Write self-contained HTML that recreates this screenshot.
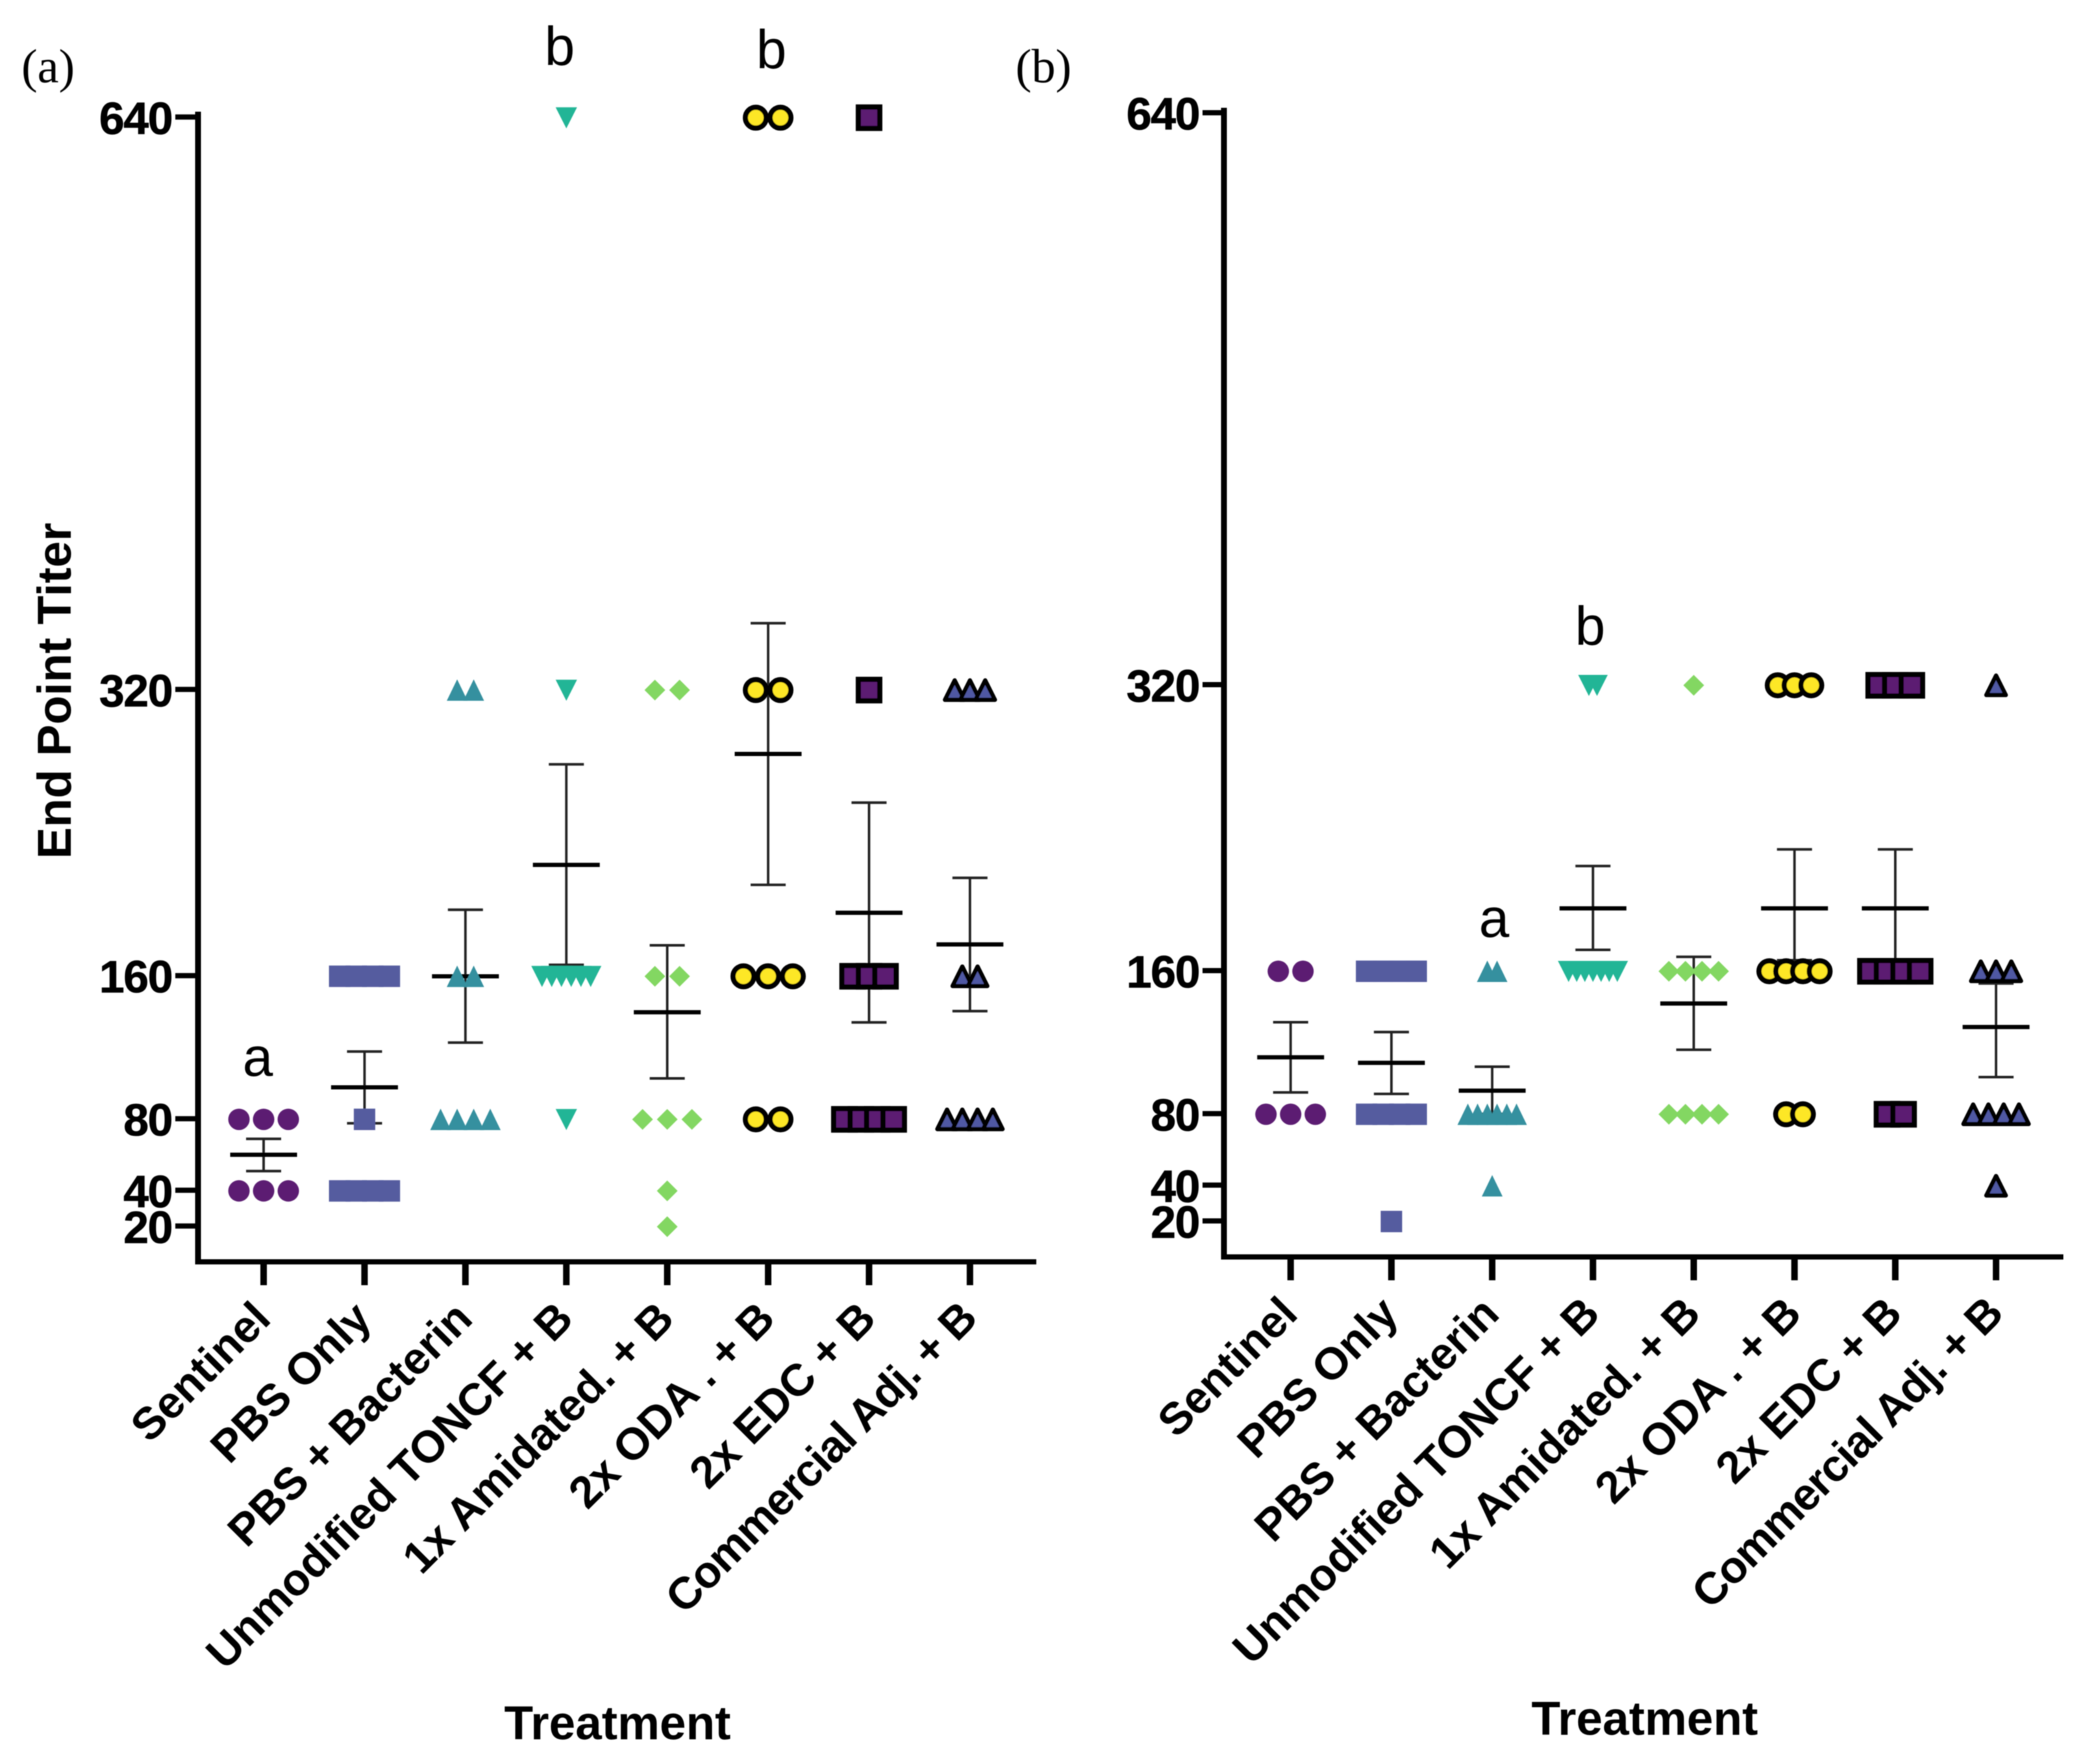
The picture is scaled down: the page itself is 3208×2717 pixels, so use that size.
<!DOCTYPE html>
<html lang="en">
<head>
<meta charset="utf-8">
<title>End Point Titer by Treatment</title>
<style>
html,body{margin:0;padding:0;background:#fff;}
svg{display:block;}
text{font-family:"Liberation Sans",sans-serif;fill:#000;}
.tick-label{font-weight:700;font-size:70px;text-anchor:end;letter-spacing:-1.5px;stroke:#000;stroke-width:0.8px;}
.cat-label{font-weight:700;font-size:69px;text-anchor:end;}
.cat-label-tight{letter-spacing:-1.5px;}
.axis-title{font-weight:700;font-size:73px;text-anchor:middle;}
.sig{font-size:84px;text-anchor:middle;}
.panel-letter{font-family:"Liberation Serif",serif;font-size:74px;}
</style>
</head>
<body>
<svg id="figure" xmlns="http://www.w3.org/2000/svg" width="3208" height="2717" viewBox="0 0 3208 2717">
  <defs>
    <filter id="soften" x="0" y="0" width="100%" height="100%">
      <feGaussianBlur stdDeviation="0.9"/>
    </filter>
  </defs>
  <rect width="3208" height="2717" fill="#ffffff"/>
  <g filter="url(#soften)">
    <g id="panel-a"></g>
    <g id="panel-b"></g>

    <text class="panel-letter" x="33" y="127">(a)</text>
    <text class="panel-letter" x="1564" y="127">(b)</text>

    <text class="axis-title" transform="translate(109 1064) rotate(-90)">End Point Titer</text>
    <text class="axis-title" x="951" y="2679">Treatment</text>
    <text class="axis-title" x="2533" y="2672">Treatment</text>

    <text class="sig" x="397" y="1657">a</text>
    <text class="sig" x="862" y="100">b</text>
    <text class="sig" x="1188" y="105">b</text>
    <text class="sig" x="2301" y="1443">a</text>
    <text class="sig" x="2449" y="993">b</text>
  </g>
</svg>

<script>
// ---------- Chart data ----------
const categories = ["Sentinel", "PBS Only", "PBS + Bacterin", "Unmodified TONCF + B", "1x Amidated. + B", "2x ODA . + B", "2x EDC + B", "Commercial Adj. + B"];
const yTickValues = [20, 40, 80, 160, 320, 640];

// Panel (a): individual titers per treatment
const panelASentinel = [80, 80, 80, 40, 40, 40];
const panelAPbs = [160, 160, 160, 160, 80, 40, 40, 40, 40];
const panelAPbsBacterin = [320, 320, 160, 160, 80, 80, 80, 80];
const panelAUnmodified = [640, 320, 160, 160, 160, 160, 160, 160, 80];
const panelAAmidated = [320, 320, 160, 160, 80, 80, 80, 40, 20];
const panelAOda = [640, 640, 320, 320, 160, 160, 160, 80, 80];
const panelAEdc = [640, 320, 160, 160, 160, 80, 80, 80, 80];
const panelACommercial = [320, 320, 320, 160, 160, 80, 80, 80, 80];
const panelAMeans = [60.2, 97.9, 160, 222.3, 139.9, 284.3, 195.5, 177.8];
const panelAUpper = [69.1, 117.9, 197.2, 278.5, 177.3, 357.4, 257.1, 215];
const panelALower = [51.1, 77.8, 122.9, 166.4, 102.9, 211.1, 134.2, 140.5];

// Panel (b): individual titers per treatment
const panelBSentinel = [160, 160, 80, 80, 80];
const panelBPbs = [160, 160, 160, 160, 80, 80, 80, 80, 20];
const panelBPbsBacterin = [160, 160, 80, 80, 80, 80, 80, 80, 40];
const panelBUnmodified = [320, 320, 160, 160, 160, 160, 160, 160, 160];
const panelBAmidated = [320, 160, 160, 160, 160, 80, 80, 80, 80];
const panelBOda = [320, 320, 320, 160, 160, 160, 160, 80, 80];
const panelBEdc = [320, 320, 320, 160, 160, 160, 160, 80, 80];
const panelBCommercial = [320, 160, 160, 160, 80, 80, 80, 80, 40];
const panelBMeans = [111.9, 108.8, 93.2, 195.2, 142, 195.2, 195.2, 128.8];
const panelBUpper = [131.5, 126, 106.6, 218.9, 168.1, 228.2, 228.2, 153.2];
const panelBLower = [92.2, 91.4, 80.2, 172, 116.1, 166.2, 166.2, 100.8];

// ---------- Layout and style ----------
const NS = "http://www.w3.org/2000/svg";
const markerKinds = ["dot", "square", "up", "down", "diamond", "ringDot", "ringSquare", "ringUp"];
const markerFills = ["#5b1a72", "#545c9f", "#36909f", "#22b596", "#83d762", "#fde725", "#5b1a72", "#5058a3"];
const panelLayouts = [
  { rootId: "panel-a", prefix: "panel-a", axisX: 305, baseY: 1944.5, axisLineY: 1943.5, topY: 176, rightX: 1596, firstX: 406, stepX: 155.4, slope: 2.755, labelX: 265, tickLeft: 270, labelEndDX: 14, labelEndDY: 91, gaps: [38, 25.5, 25.5, 15, 38, 38, 25.3, 23.5] },
  { rootId: "panel-b", prefix: "panel-b", axisX: 1885, baseY: 1936.5, axisLineY: 1936, topY: 170, rightX: 3178, firstX: 1987.7, stepX: 155.2, slope: 2.753, labelX: 1847, tickLeft: 1852, labelEndDX: 14, labelEndDY: 91, gaps: [38, 25.5, 15, 12.5, 25.5, 25.8, 25.5, 23.5] }
];
const panelASeries = [panelASentinel, panelAPbs, panelAPbsBacterin, panelAUnmodified, panelAAmidated, panelAOda, panelAEdc, panelACommercial];
const panelBSeries = [panelBSentinel, panelBPbs, panelBPbsBacterin, panelBUnmodified, panelBAmidated, panelBOda, panelBEdc, panelBCommercial];

function makeLine(parent, x1, y1, x2, y2, width, color) {
  const el = document.createElementNS(NS, "line");
  el.setAttribute("x1", x1);
  el.setAttribute("y1", y1);
  el.setAttribute("x2", x2);
  el.setAttribute("y2", y2);
  el.setAttribute("stroke", color);
  el.setAttribute("stroke-width", width);
  parent.appendChild(el);
  return el;
}

function makeMarker(parent, kind, fill, cx, cy) {
  let el;
  if (kind === "dot" || kind === "ringDot") {
    el = document.createElementNS(NS, "circle");
    el.setAttribute("cx", cx);
    el.setAttribute("cy", cy);
    el.setAttribute("r", kind === "dot" ? 16.5 : 16);
  } else if (kind === "square" || kind === "ringSquare") {
    const half = 16.5;
    el = document.createElementNS(NS, "rect");
    el.setAttribute("x", cx - half);
    el.setAttribute("y", cy - half);
    el.setAttribute("width", half * 2);
    el.setAttribute("height", half * 2);
  } else {
    el = document.createElementNS(NS, "polygon");
    let pts;
    if (kind === "up") pts = [[cx, cy - 16.5], [cx + 16, cy + 16.5], [cx - 16, cy + 16.5]];
    else if (kind === "down") pts = [[cx - 16.5, cy - 16], [cx + 16.5, cy - 16], [cx, cy + 16.5]];
    else if (kind === "diamond") pts = [[cx, cy - 16], [cx + 16, cy], [cx, cy + 16], [cx - 16, cy]];
    else pts = [[cx, cy - 15], [cx + 15, cy + 15], [cx - 15, cy + 15]];
    el.setAttribute("points", pts.map(function (p) { return p.join(","); }).join(" "));
  }
  el.setAttribute("fill", fill);
  if (kind === "ringDot" || kind === "ringSquare") {
    el.setAttribute("stroke", "#000");
    el.setAttribute("stroke-width", "8");
  } else if (kind === "ringUp") {
    el.setAttribute("stroke", "#000");
    el.setAttribute("stroke-width", "6.5");
    el.setAttribute("stroke-linejoin", "round");
  }
  parent.appendChild(el);
  return el;
}

function drawPanel(layout, series, means, upper, lower) {
  const root = document.getElementById(layout.rootId);
  const yScale = function (v) { return layout.baseY - v * layout.slope; };
  const xScale = function (i) { return layout.firstX + i * layout.stepX; };

  // Axes
  const yAxis = makeLine(root, layout.axisX, layout.topY - 4, layout.axisX, layout.axisLineY + 4, 9, "#000");
  
  
  const xAxis = makeLine(root, layout.axisX - 4, layout.axisLineY, layout.rightX, layout.axisLineY, 8, "#000");
  
  

  // Y ticks
  yTickValues.forEach(function (v) {
    const y = yScale(v) - 1;
    const tick = makeLine(root, layout.tickLeft, y, layout.axisX, y, 8, "#000");
    
    
    const label = document.createElementNS(NS, "text");
    label.setAttribute("class", "tick-label");
    label.setAttribute("x", layout.labelX);
    label.setAttribute("y", y + 26);
    label.textContent = String(v);
    
    
    root.appendChild(label);
  });

  // X ticks and labels
  categories.forEach(function (name, i) {
    const x = xScale(i);
    const tick = makeLine(root, x, layout.axisLineY, x, layout.axisLineY + 36, 10, "#000");
    
    
    const label = document.createElementNS(NS, "text");
    label.setAttribute("class", i === categories.length - 1 ? "cat-label cat-label-tight" : "cat-label");
    const lx = x + layout.labelEndDX;
    const ly = layout.axisLineY + layout.labelEndDY;
    label.setAttribute("transform", "translate(" + lx + " " + ly + ") rotate(-45)");
    label.textContent = name;
    
    
    root.appendChild(label);
  });

  // Error bars and means (behind markers)
  categories.forEach(function (name, i) {
    const x = xScale(i);
    const g = document.createElementNS(NS, "g");
    
    
    root.appendChild(g);
    makeLine(g, x, yScale(upper[i]), x, yScale(lower[i]), 3.8, "#222");
    makeLine(g, x - 27, yScale(upper[i]), x + 27, yScale(upper[i]), 4, "#222");
    makeLine(g, x - 27, yScale(lower[i]), x + 27, yScale(lower[i]), 4, "#222");
    makeLine(g, x - 51.5, yScale(means[i]), x + 51.5, yScale(means[i]), 6.5, "#000");
  });

  // Markers: points at the same titer are spread side by side
  series.forEach(function (values, i) {
    const x = xScale(i);
    const g = document.createElementNS(NS, "g");
    
    
    root.appendChild(g);
    const levels = Array.from(new Set(values));
    levels.forEach(function (level) {
      const count = values.filter(function (v) { return v === level; }).length;
      for (let k = 0; k < count; k++) {
        const cx = x + (k - (count - 1) / 2) * layout.gaps[i];
        const m = makeMarker(g, markerKinds[i], markerFills[i], cx, yScale(level));
        
        
      }
    });
  });
}

drawPanel(panelLayouts[0], panelASeries, panelAMeans, panelAUpper, panelALower);
drawPanel(panelLayouts[1], panelBSeries, panelBMeans, panelBUpper, panelBLower);
</script>
</body>
</html>
